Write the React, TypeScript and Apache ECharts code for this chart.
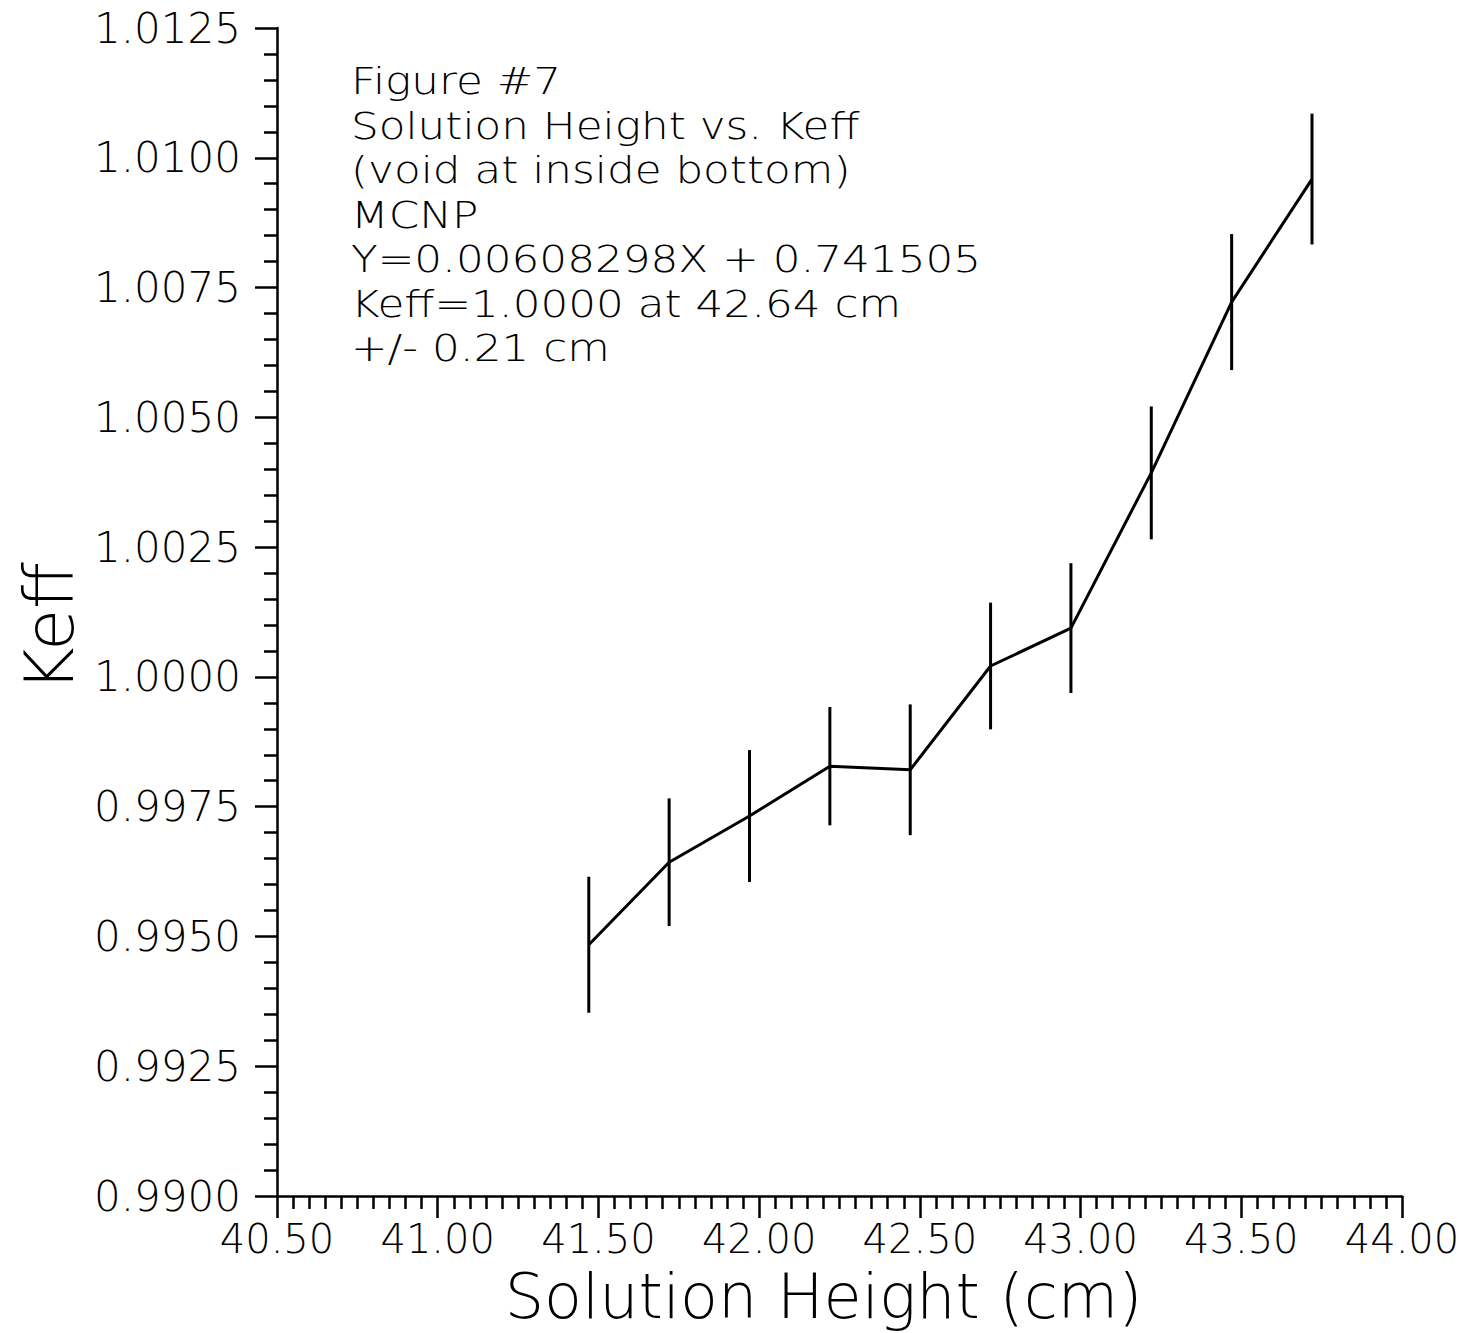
import React, { useEffect, useRef } from "react";
import * as echarts from "echarts";

// Data
const heights = [41.47, 41.72, 41.97, 42.22, 42.47, 42.72, 42.97, 43.22, 43.47, 43.72];
const keff = [0.99484, 0.99643, 0.99732, 0.99828, 0.99821, 1.00021, 1.00094, 1.00393, 1.00722, 1.00959];
const errs = [0.00131, 0.00123, 0.00127, 0.00114, 0.00126, 0.00122, 0.00125, 0.00128, 0.00131, 0.00126];

const noteLines = [
  "Figure #7",
  "Solution Height vs. Keff",
  "(void at inside bottom)",
  "MCNP",
  "Y=0.00608298X + 0.741505",
  "Keff=1.0000 at 42.64 cm",
  "+/- 0.21 cm",
];

const xName = "Solution Height (cm)";
const yName = "Keff";

const FONT = "'DejaVu Sans', sans-serif";

export default function App() {
  const ref = useRef<HTMLDivElement>(null);

  useEffect(() => {
    if (!ref.current) return;
    const chart = echarts.init(ref.current, null, { renderer: "svg" });
    const linePts = heights.map((h, i) => [h, keff[i]]);
    const errPts = heights.map((h, i) => [h, keff[i], errs[i]]);

    chart.setOption({
      animation: false,
      backgroundColor: "#ffffff",
      grid: {
        left: 277,
        right: 57,
        top: 28,
        bottom: 137,
        containLabel: false,
        outerBoundsMode: "none",
      },
      xAxis: {
        type: "value",
        min: 40.5,
        max: 44.0,
        interval: 0.5,
        name: xName,
        nameLocation: "middle",
        nameGap: 69,
        nameMoveOverlap: false,
        nameTextStyle: {
          fontFamily: FONT,
          fontSize: 62,
          color: "#000",
          fontWeight: 200,
          padding: [0, 32, 0, 0],
        },
        axisLine: { show: true, onZero: false, lineStyle: { color: "#000", width: 2.5 } },
        axisTick: { show: true, inside: false, length: 22, lineStyle: { color: "#000", width: 2.5 } },
        minorTick: { show: true, splitNumber: 10, length: 13, lineStyle: { color: "#000", width: 2.5 } },
        splitLine: { show: false },
        minorSplitLine: { show: false },
        axisLabel: {
          margin: 23,
          fontFamily: FONT,
          fontSize: 40,
          color: "#000",
          fontWeight: 200,
          formatter: (v: number) => v.toFixed(2),
        },
      },
      yAxis: {
        type: "value",
        min: 0.99,
        max: 1.0125,
        interval: 0.0025,
        name: yName,
        nameLocation: "middle",
        nameGap: 194,
        nameMoveOverlap: false,
        nameTextStyle: {
          fontFamily: FONT,
          fontSize: 68,
          color: "#000",
          fontWeight: 200,
          padding: [0, 30, 0, 0],
        },
        axisLine: { show: true, onZero: false, lineStyle: { color: "#000", width: 2.5 } },
        axisTick: { show: true, inside: false, length: 22, lineStyle: { color: "#000", width: 2.5 } },
        minorTick: { show: true, splitNumber: 5, length: 13, lineStyle: { color: "#000", width: 2.5 } },
        splitLine: { show: false },
        minorSplitLine: { show: false },
        axisLabel: {
          margin: 36,
          fontFamily: FONT,
          fontSize: 42,
          color: "#000",
          fontWeight: 200,
          formatter: (v: number) => v.toFixed(4),
        },
      },
      graphic: noteLines.map((t, i) => ({
        type: "text",
        x: 351,
        y: 62 + i * 44.5,
        scaleX: 1.15,
        style: {
          text: t,
          fontFamily: FONT,
          fontSize: 38,
          fontWeight: 200,
          fill: "#000",
          verticalAlign: "top",
        },
      })),
      series: [
        {
          type: "line",
          data: linePts,
          symbol: "none",
          lineStyle: { color: "#000", width: 3 },
          z: 3,
        },
        {
          type: "custom",
          data: errPts,
          encode: { x: 0, y: 1 },
          z: 4,
          renderItem: (params: any, api: any) => {
            const x = api.value(0);
            const y = api.value(1);
            const e = api.value(2);
            const top = api.coord([x, y + e]);
            const bot = api.coord([x, y - e]);
            return {
              type: "line",
              shape: { x1: top[0], y1: top[1], x2: bot[0], y2: bot[1] },
              style: { stroke: "#000", lineWidth: 3 },
            };
          },
        },
      ],
    });

    return () => chart.dispose();
  }, []);

  return (
    <div
      ref={ref}
      style={{ position: "absolute", left: 0, top: 0, width: 1459, height: 1333, background: "#fff" }}
    />
  );
}
